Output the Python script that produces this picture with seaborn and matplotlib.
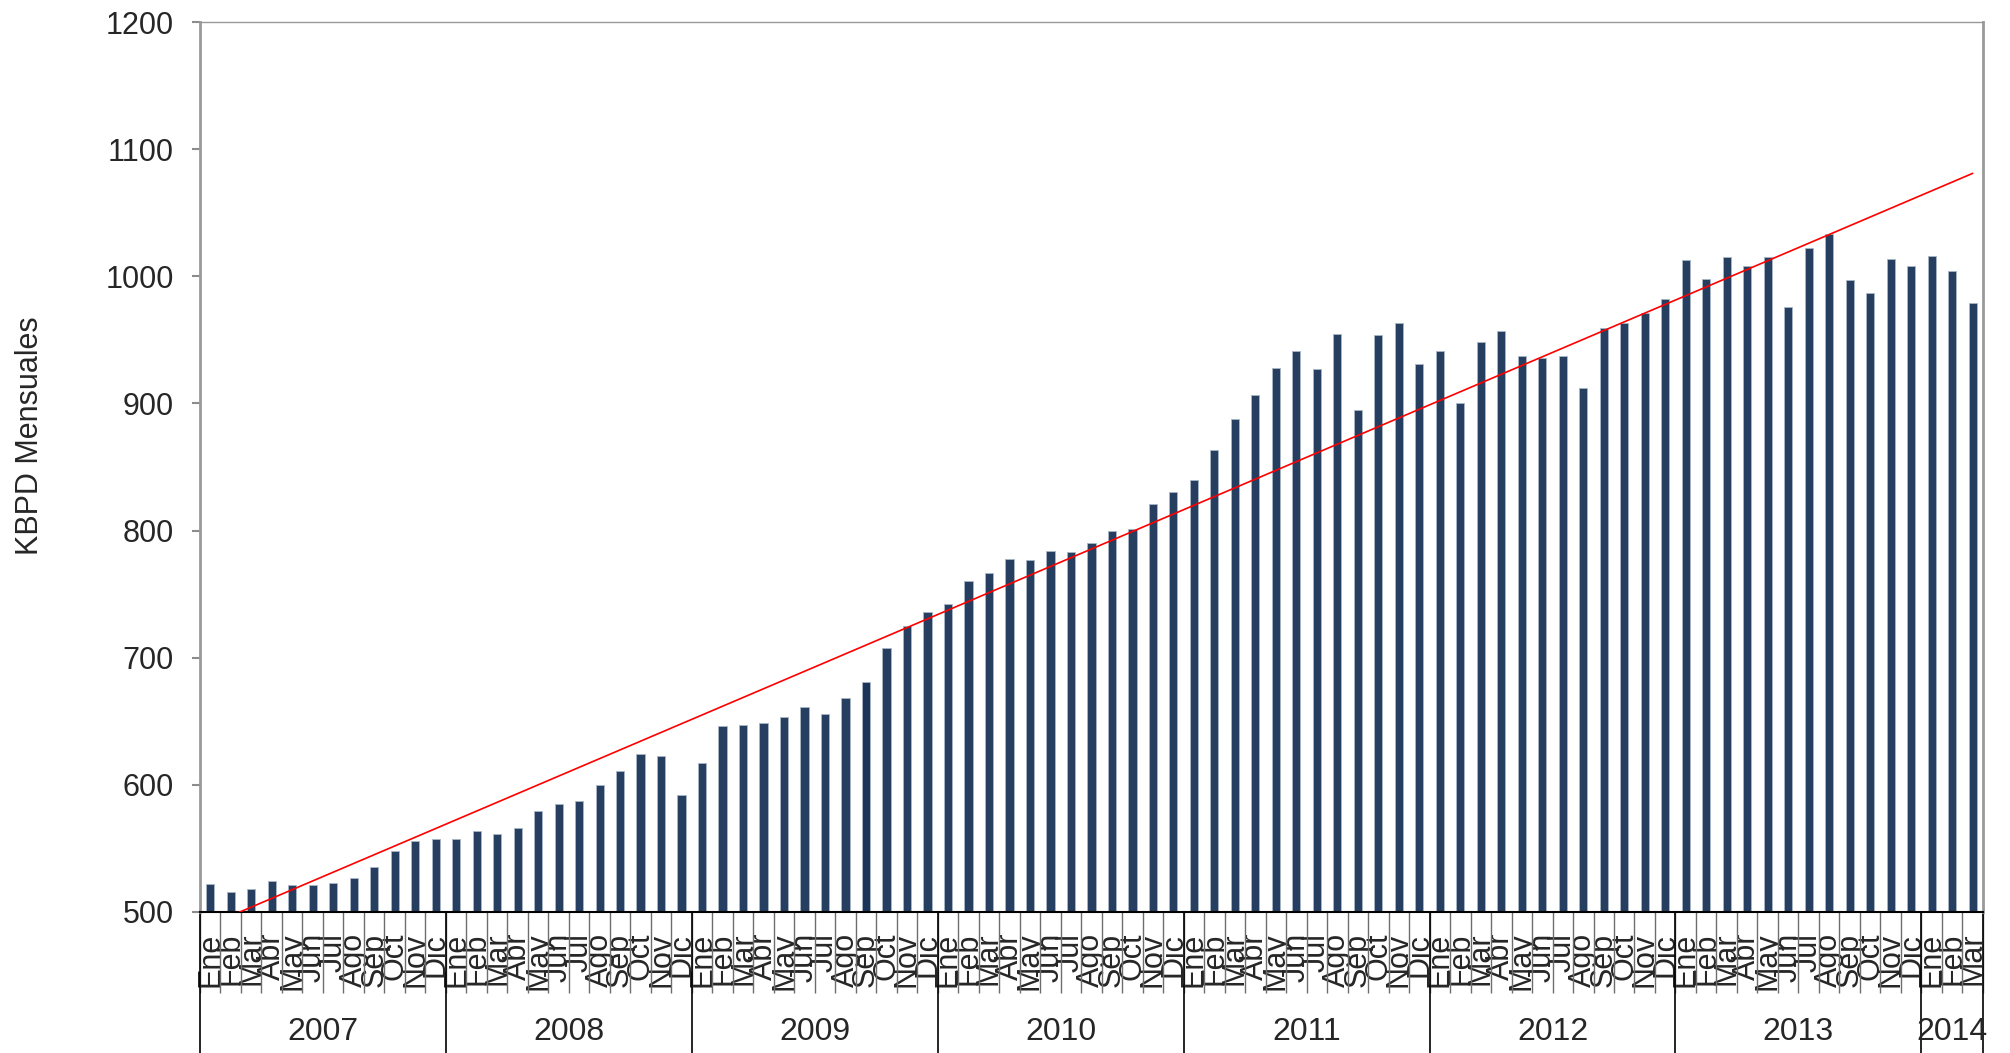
import numpy as np
import pandas as pd
import matplotlib
matplotlib.use('Agg')
import matplotlib.pyplot as plt
import seaborn as sns

# Producción mensual (KBPD), Ene 2007 - Mar 2014
meses = ['Ene', 'Feb', 'Mar', 'Abr', 'May', 'Jun', 'Jul', 'Ago', 'Sep', 'Oct', 'Nov', 'Dic']
anios = [2007, 2008, 2009, 2010, 2011, 2012, 2013, 2014]
meses_2014 = 3

kbpd_2007 = [522, 516, 518, 524, 521, 521, 523, 527, 535, 548, 556, 557]
kbpd_2008 = [557, 564, 561, 566, 579, 585, 587, 600, 611, 624, 623, 592]
kbpd_2009 = [617, 646, 647, 649, 653, 661, 656, 668, 681, 708, 725, 736]
kbpd_2010 = [742, 760, 767, 778, 777, 784, 783, 790, 800, 801, 821, 830]
kbpd_2011 = [840, 863, 888, 907, 928, 941, 927, 955, 895, 954, 963, 931]
kbpd_2012 = [941, 900, 948, 957, 937, 936, 937, 912, 959, 963, 971, 982]
kbpd_2013 = [1013, 998, 1015, 1008, 1015, 976, 1022, 1033, 997, 987, 1014, 1008]
kbpd_2014 = [1016, 1004, 979]

# linea de tendencia (valor en el primer y ultimo mes)
tendencia = [490, 1081]

valores = kbpd_2007 + kbpd_2008 + kbpd_2009 + kbpd_2010 + kbpd_2011 + kbpd_2012 + kbpd_2013 + kbpd_2014
etiquetas = []
claves = []
for a in anios:
    n = meses_2014 if a == 2014 else 12
    for m in meses[:n]:
        etiquetas.append(m)
        claves.append(f'{m} {a}')

df = pd.DataFrame({'clave': claves, 'kbpd': valores})

sns.set_style('white')
plt.rcParams['font.family'] = ['Liberation Sans', 'DejaVu Sans']

fig = plt.figure(figsize=(20.1, 10.53), dpi=100)
ax = fig.add_axes([0.0995, 0.134, 0.887, 0.845])

sns.barplot(data=df, x='clave', y='kbpd', color='#263f60', width=0.4,
            edgecolor='#a9b6c6', linewidth=0.6, saturation=1, ax=ax)
# Sep 2009 algo mas oscuro en el original
ax.patches[claves.index('Sep 2009')].set_facecolor('#1b3559')

n = len(valores)
ax.plot([0, n - 1], tendencia, color='#ff0000', lw=1.2, zorder=3)

ax.set_xlim(-0.5, n - 0.5)
ax.set_ylim(500, 1200)
ax.set_yticks(range(500, 1201, 100))
ax.tick_params(axis='y', direction='out', length=6, width=1.5, color='#8c8c8c',
               labelsize=22, pad=13, left=True)

ax.set_xticks(range(n))
ax.set_xticklabels(etiquetas, rotation=90, fontsize=22)
ax.set_xticks(np.arange(-0.5, n, 1), minor=True)
ax.tick_params(axis='x', which='major', length=0, pad=15)
ax.tick_params(axis='x', which='minor', direction='out', length=58, width=1,
               color='#6e6e6e', bottom=True)
ax.set_xlabel('')
ax.set_ylabel('KBPD Mensuales', fontsize=22)
ax.yaxis.set_label_coords(-0.087, 0.535)

for lado in ['left', 'right']:
    ax.spines[lado].set_color('#999999')
    ax.spines[lado].set_linewidth(2)
ax.spines['top'].set_color('#999999')
ax.spines['top'].set_linewidth(1)
ax.spines['bottom'].set_color('black')
ax.spines['bottom'].set_linewidth(1.5)

# separadores y etiquetas de año
trans = ax.get_xaxis_transform()
inicio = 0
limites = [-0.5]
for a in anios:
    cnt = meses_2014 if a == 2014 else 12
    fin = inicio + cnt
    limites.append(fin - 0.5)
    ax.text((inicio + fin - 1) / 2, -0.135, str(a), transform=trans,
            ha='center', va='center', fontsize=23)
    inicio = fin
ax.vlines(limites, -0.16, 0, transform=trans, colors='black', lw=1.2, clip_on=False)

fig.savefig('out.png', dpi=100)
